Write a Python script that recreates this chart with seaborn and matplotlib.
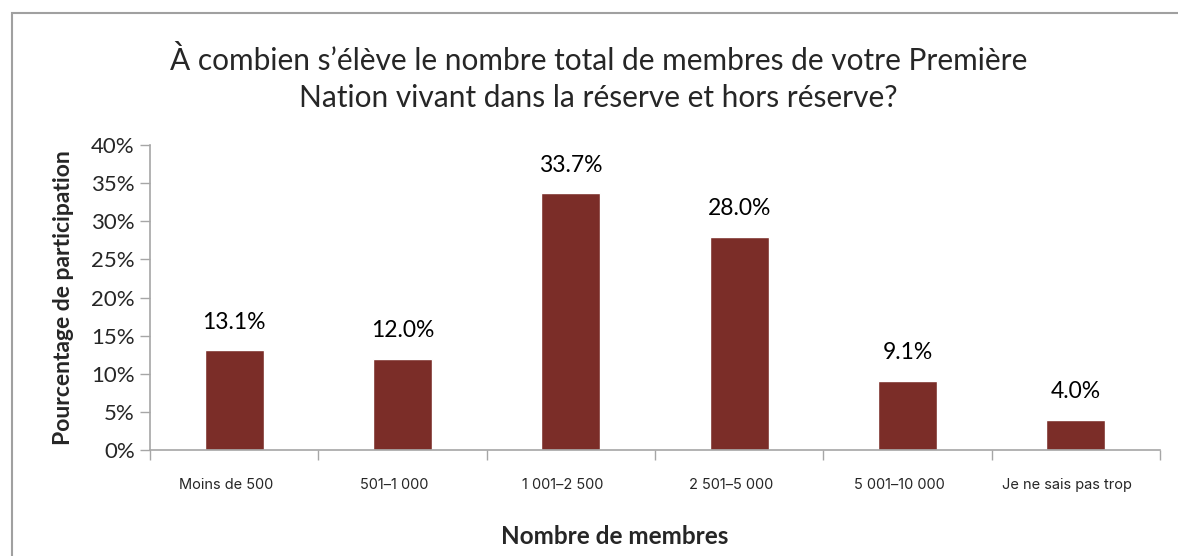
import numpy as np
import pandas as pd
import seaborn as sns
import matplotlib.pyplot as plt
from matplotlib.patches import Rectangle
from matplotlib.ticker import PercentFormatter

categories = ["Moins de 500", "501–1 000", "1 001–2 500", "2 501–5 000", "5 001–10 000", "Je ne sais pas trop"]
values = [13.1, 12.0, 33.7, 28.0, 9.1, 4.0]

df = pd.DataFrame({"categorie": categories, "pct": values})

sns.set_theme(style="white")
plt.rcParams['font.family'] = ['Lato', 'DejaVu Sans']

fig = plt.figure(figsize=(11.78, 5.56), dpi=100)
ax = fig.add_axes([0.1273, 0.1906, 0.8574, 0.5486])

sns.barplot(data=df, x="categorie", y="pct", color="#7B2D28", saturation=1,
            width=0.35, ax=ax)

for i, v in enumerate(values):
    ax.text(i, v + 2.3, f"{v:.1f}%", ha="center", va="bottom", fontsize=16.5, color="black")

ax.set_ylim(0, 40)
ax.set_yticks(np.arange(0, 41, 5))
ax.yaxis.set_major_formatter(PercentFormatter(decimals=0))
ax.set_xlim(-0.5, len(categories) - 0.5)

# ticks between categories
ax.set_xticks(np.arange(-0.5, len(categories), 1), minor=False)
ax.set_xticklabels([])
ax.set_xticks(np.arange(len(categories)) - 0.05, minor=True)
ax.set_xticklabels(categories, minor=True, fontsize=10.5, family=['Inter', 'DejaVu Sans'])
ax.tick_params(axis="x", which="major", length=7, width=1, color="#A6A6A6", direction="out", bottom=True)
ax.tick_params(axis="x", which="minor", length=0, pad=20)
ax.tick_params(axis="y", length=7, width=1, color="#A6A6A6", direction="out", left=True, labelsize=16, pad=4)

for s in ["top", "right"]:
    ax.spines[s].set_visible(False)
for s in ["left", "bottom"]:
    ax.spines[s].set_color("#A6A6A6")
    ax.spines[s].set_linewidth(1.2)

ax.set_xlabel("Nombre de membres", fontsize=17.5, fontweight="bold")
ax.xaxis.set_label_coords(0.46, -0.245)
ax.set_ylabel("Pourcentage de participation", fontsize=16.5, fontweight="bold", labelpad=12)

fig.text(0.508, 0.858, "À combien s’élève le nombre total de membres de votre Première\nNation vivant dans la réserve et hors réserve?",
         ha="center", va="center", fontsize=21.5, linespacing=1.42)

fig.patches.append(Rectangle((12 / 1178, -0.1), 1.2, 1 - 13 / 556 + 0.1, transform=fig.transFigure,
                             fill=False, edgecolor="#A0A0A0", linewidth=1.5))

fig.savefig("out.png", dpi=100, facecolor="white")
